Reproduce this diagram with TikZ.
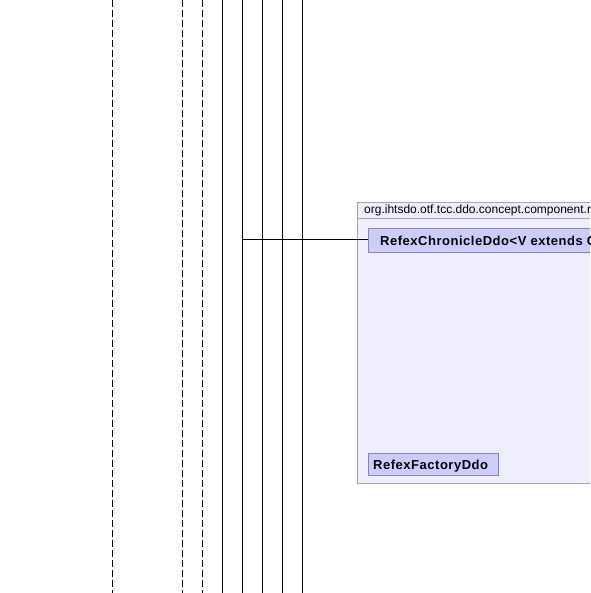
\documentclass[tikz,border=0pt]{standalone}
\usepackage{fontspec}
\setmainfont{Liberation Sans}
\newfontfamily\clsfont[LetterSpace=4]{Liberation Sans}
\definecolor{pkgfill}{HTML}{EEEEFF}
\definecolor{pkgline}{HTML}{A4A4B8}
\definecolor{clsfill}{HTML}{CCCCFF}
\definecolor{clsline}{HTML}{8888A8}
\tikzset{
  lifeline/.style={line width=1pt, black},
  dashedlife/.style={lifeline, dash pattern=on 7pt off 3pt},
  pkgbox/.style={draw=pkgline, fill=pkgfill, line width=1pt},
  clsbox/.style={draw=clsline, fill=clsfill, line width=1pt},
  clstext/.style={font=\clsfont\bfseries\fontsize{13}{15}\selectfont, anchor=base west, inner sep=0pt},
  pkgtext/.style={font=\fontsize{12}{14}\selectfont, anchor=base west, inner sep=0pt},
  link/.style={line width=1pt, black}
}
\begin{document}
\begin{tikzpicture}[x=1pt, y=-1pt]
\useasboundingbox (0,0) rectangle (590,593);
\clip (0,0) rectangle (590,593);
\fill[white] (0,0) rectangle (590,593);

% lifelines
\foreach \px/\nm in {112/a,182/b,202/c}{
  \coordinate (\nm top) at (\px,0);
  \coordinate (\nm bot) at (\px,593);
  \draw[dashedlife] (\nm top) -- (\nm bot);
}
\foreach \px/\nm in {222/d,242/e,262/f,282/g,302/h}{
  \coordinate (\nm top) at (\px,0);
  \coordinate (\nm bot) at (\px,593);
  \draw[lifeline] (\nm top) -- (\nm bot);
}

% package frame
\draw[pkgbox] (357.5,202.5) rectangle (620,483.5);
\draw[pkgline, line width=1pt] (357.5,218.5) -- (620,218.5);
\node[pkgtext] (pkglabel) at (364,214) {org.ihtsdo.otf.tcc.ddo.concept.component.refex};

% classes
\node[clsbox, minimum width=300pt, minimum height=23pt, anchor=north west, inner sep=0pt] (chron) at (367.5,228.5) {};
\node[clstext] (chronlabel) at (380,245) {RefexChronicleDdo<V extends ComponentVersionDdo>};

\node[clsbox, minimum width=130pt, minimum height=22pt, anchor=north west, inner sep=0pt] (factory) at (367.5,452.5) {};
\node[clstext] (factorylabel) at (373,469) {RefexFactoryDdo};

% connector
\coordinate (etap) at (242,239.5);
\draw[link] (etap) -- (etap -| chron.west);
\end{tikzpicture}
\end{document}
